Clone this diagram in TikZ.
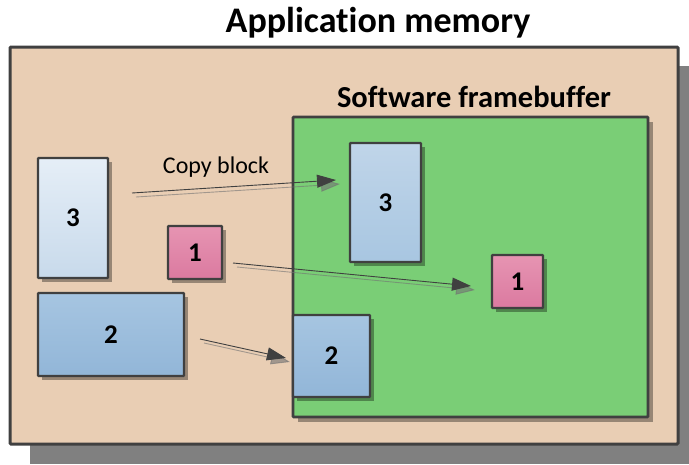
\documentclass[tikz,border=0pt]{standalone}
\usepackage{fontspec}
\setmainfont[Ligatures=NoCommon]{Carlito}
\usetikzlibrary{arrows.meta}
\definecolor{tan}{RGB}{233,206,180}
\definecolor{grn}{RGB}{122,206,118}
\definecolor{edge}{RGB}{64,64,64}
\definecolor{pinkA}{RGB}{230,148,178}
\definecolor{pinkB}{RGB}{219,122,160}
\tikzset{
  blk/.style={draw=edge, line width=2.4pt, rounded corners=0.8pt, inner sep=0pt, font=\bfseries\fontsize{27}{30}\selectfont},
  shad/.style={fill=black, opacity=0.35},
  cpy/.style={draw=edge, line width=0.9pt, -{Triangle[length=19pt,width=13pt]}},
  cpyshadow/.style={draw=black!55, line width=0.9pt, opacity=0.6, -{Triangle[length=19pt,width=13pt]}},
}
\begin{document}
\begin{tikzpicture}[x=1pt,y=-1pt]
\useasboundingbox (0,0) rectangle (689,464);
% outer shadow and box
\fill[black!50] (30,66) rectangle (689,464);
\node[draw=edge, line width=3pt, fill=tan, rounded corners=1pt, minimum width=668pt, minimum height=397pt, inner sep=0pt] (mem) at (344,245.5) {};
\node[font=\bfseries\fontsize{36}{42}\selectfont] (title) at (378,23) {Application memory};
% framebuffer
\fill[shad] (298,122) rectangle (653,422);
\node[draw=edge, line width=2.6pt, fill=grn, rounded corners=0.8pt, minimum width=355pt, minimum height=300pt, inner sep=0pt] (fb) at (470.5,267) {};
\node[font=\bfseries\fontsize{30.5}{36}\selectfont] (fbt) at (474,97) {Software framebuffer};
% left blocks
\fill[shad] (42,162) rectangle (112,282);
\node[blk, top color={rgb,255:red,229;green,238;blue,247}, bottom color={rgb,255:red,200;green,218;blue,235}, minimum width=70pt, minimum height=120pt] (a3) at (73,218) {3};
\fill[shad] (172,230) rectangle (226,283);
\node[blk, top color=pinkA, bottom color=pinkB, minimum width=54pt, minimum height=53pt] (a1) at (195,252.5) {1};
\fill[shad] (42,297) rectangle (188,380);
\node[blk, top color={rgb,255:red,166;green,197;blue,225}, bottom color={rgb,255:red,146;green,182;blue,216}, minimum width=146pt, minimum height=83pt] (a2) at (111,334.5) {2};
% right blocks
\fill[shad] (354,147) rectangle (425,266);
\node[blk, top color={rgb,255:red,192;green,213;blue,233}, bottom color={rgb,255:red,168;green,198;blue,225}, minimum width=71pt, minimum height=119pt] (b3) at (385.5,202.5) {3};
\fill[shad] (496,259) rectangle (547,312);
\node[blk, top color=pinkA, bottom color=pinkB, minimum width=51pt, minimum height=53pt] (b1) at (517.5,281.5) {1};
\fill[shad] (297,319) rectangle (374,401);
\node[blk, top color={rgb,255:red,166;green,197;blue,225}, bottom color={rgb,255:red,146;green,182;blue,216}, minimum width=77pt, minimum height=82pt] (b2) at (331.5,356) {2};
% copy arrows
\node[font=\fontsize{24}{28}\selectfont] (lbl) at (216,167) {Copy block};
\coordinate (s3) at (132,193);
\coordinate (e3) at (336,180);
\coordinate (s1) at (233,263);
\coordinate (e1) at (471,286);
\coordinate (s2) at (200,339);
\coordinate (e2) at (286,358);
\draw[cpyshadow] ([shift={(4,4)}]s3) -- ([shift={(4,4)}]e3);
\draw[cpy] (s3) -- (e3);
\draw[cpyshadow] ([shift={(4,4)}]s1) -- ([shift={(4,4)}]e1);
\draw[cpy] (s1) -- (e1);
\draw[cpyshadow] ([shift={(4,4)}]s2) -- ([shift={(4,4)}]e2);
\draw[cpy] (s2) -- (e2);
\end{tikzpicture}
\end{document}
